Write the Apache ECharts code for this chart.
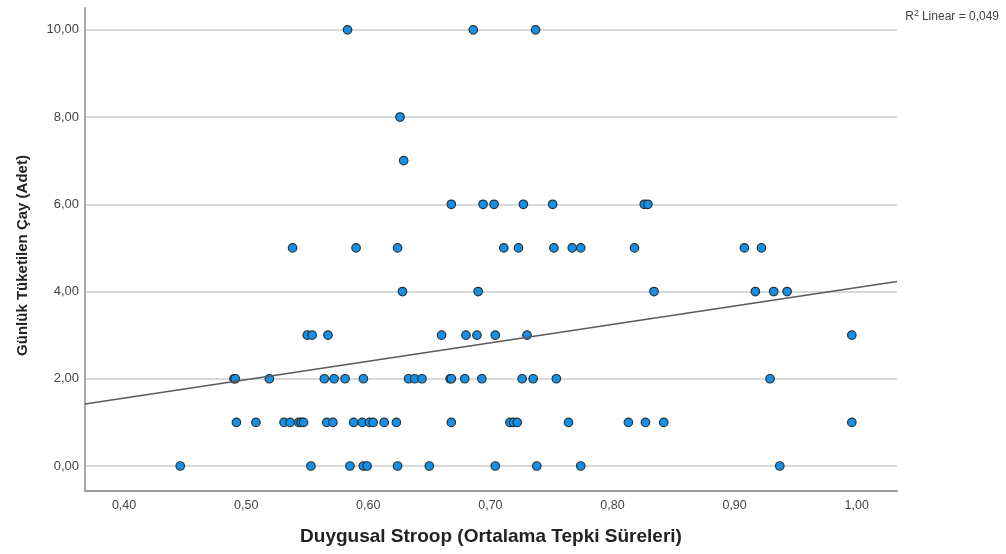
<!DOCTYPE html>
<html>
<head>
<meta charset="utf-8">
<script src="https://cdn.jsdelivr.net/npm/echarts@6/dist/echarts.min.js"></script>
<style>
html,body{margin:0;padding:0;background:#fff;}
#c{width:1006px;height:554px;}
</style>
</head>
<body>
<div id="c"></div>
<script>
// x values (Duygusal Stroop) grouped by daily tea count (y level)
const level10 = [0.583, 0.686, 0.737];
const level8 = [0.626];
const level7 = [0.629];
const level6 = [0.668, 0.694, 0.703, 0.727, 0.751, 0.826, 0.829];
const level5 = [0.538, 0.590, 0.624, 0.711, 0.723, 0.752, 0.767, 0.774, 0.818, 0.908, 0.922];
const level4 = [0.628, 0.690, 0.834, 0.917, 0.932, 0.943];
const level3 = [0.550, 0.554, 0.567, 0.660, 0.680, 0.689, 0.704, 0.730, 0.996];
const level2 = [0.490, 0.491, 0.519, 0.564, 0.572, 0.581, 0.596, 0.633, 0.638, 0.644, 0.667, 0.668, 0.679, 0.693, 0.726, 0.735, 0.754, 0.929];
const level1 = [0.492, 0.508, 0.531, 0.536, 0.543, 0.545, 0.547, 0.566, 0.571, 0.588, 0.595, 0.601, 0.604, 0.613, 0.623, 0.668, 0.716, 0.719, 0.722, 0.764, 0.813, 0.827, 0.842, 0.996];
const level0 = [0.446, 0.553, 0.585, 0.596, 0.599, 0.624, 0.650, 0.704, 0.738, 0.774, 0.937];

const levels = [
  [10, level10], [8, level8], [7, level7], [6, level6], [5, level5],
  [4, level4], [3, level3], [2, level2], [1, level1], [0, level0]
];

// fit line end points
const fitX = [0.368, 1.033];
const fitY = [1.42, 4.23];

const xTitle = 'Duygusal Stroop (Ortalama Tepki Süreleri)';
const yTitle = 'Günlük Tüketilen Çay (Adet)';

const points = [];
levels.forEach(([y, xs]) => xs.forEach(x => points.push([x, y])));

const fmt = v => v.toFixed(2).replace('.', ',');
const FONT = 'Liberation Sans, Arial, sans-serif';

const chart = echarts.init(document.getElementById('c'), null, {renderer: 'canvas'});
chart.setOption({
  animation: false,
  backgroundColor: '#ffffff',
  grid: {left: 85, right: 109, top: 8, bottom: 63, containLabel: false},
  xAxis: {
    type: 'value',
    min: 0.368, max: 1.033,
    minInterval: 0.1, maxInterval: 0.1,
    name: xTitle,
    nameLocation: 'middle',
    nameGap: 36,
    nameTextStyle: {fontFamily: FONT, fontWeight: 'bold', fontSize: 19, color: '#222'},
    axisLine: {show: true, onZero: false, lineStyle: {color: '#9e9e9e', width: 2}},
    axisTick: {show: false},
    splitLine: {show: false},
    axisLabel: {
      showMinLabel: false, showMaxLabel: false,
      margin: 8,
      fontFamily: FONT, fontSize: 12.5, color: '#444',
      formatter: fmt
    }
  },
  yAxis: {
    type: 'value',
    min: -0.573, max: 10.5,
    minInterval: 2, maxInterval: 2,
    name: yTitle,
    nameLocation: 'middle',
    nameGap: 55,
    nameRotate: 90,
    nameTextStyle: {fontFamily: FONT, fontWeight: 'bold', fontSize: 15, color: '#222', padding: [0, 12, 0, 0]},
    axisLine: {show: true, onZero: false, lineStyle: {color: '#a6a6a6', width: 2}},
    axisTick: {show: false},
    splitLine: {show: true, showMinLine: false, showMaxLine: false, lineStyle: {color: '#d9d9d9', width: 2}},
    axisLabel: {
      showMinLabel: false, showMaxLabel: false,
      margin: 6,
      fontFamily: FONT, fontSize: 13, color: '#444',
      formatter: fmt
    }
  },
  series: [
    {
      type: 'scatter',
      data: points,
      symbol: 'circle',
      symbolSize: 8.5,
      itemStyle: {color: '#1590e6', borderColor: '#263238', borderWidth: 1.2, opacity: 1},
      z: 2
    },
    {
      type: 'line',
      data: [[fitX[0], fitY[0]], [fitX[1], fitY[1]]],
      showSymbol: false,
      symbol: 'none',
      lineStyle: {color: '#5a5a5a', width: 1.6},
      clip: true,
      z: 3
    }
  ],
  graphic: [{
    type: 'text',
    right: 7, top: 9,
    style: {
      text: '{r|R}{s|2}{r|Linear = 0,049}',
      rich: {
        r: {fontFamily: FONT, fontSize: 12, fill: '#444', verticalAlign: 'bottom'},
        s: {fontFamily: FONT, fontSize: 9, fill: '#444', verticalAlign: 'top', padding: [0, 3, 5, 0]}
      }
    }
  }]
});
</script>
</body>
</html>
